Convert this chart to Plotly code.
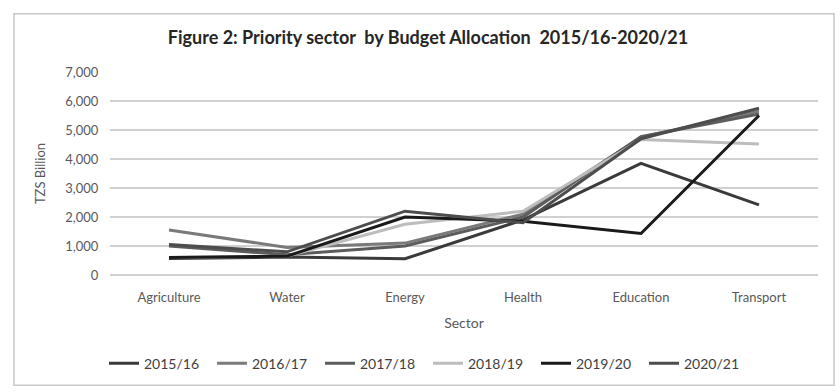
import plotly.graph_objects as go

sectors = ["Agriculture", "Water", "Energy", "Health", "Education", "Transport"]
years = ["2015/16", "2016/17", "2017/18", "2018/19", "2019/20", "2020/21"]
v_2015_16 = [570, 620, 560, 1900, 3850, 2420]
v_2016_17 = [1550, 950, 1100, 2100, 4750, 5650]
v_2017_18 = [1000, 700, 1000, 2000, 4770, 5550]
v_2018_19 = [600, 650, 1750, 2200, 4670, 4520]
v_2019_20 = [600, 650, 2000, 1850, 1430, 5500]
v_2020_21 = [1050, 800, 2200, 1800, 4700, 5750]
series = [v_2015_16, v_2016_17, v_2017_18, v_2018_19, v_2019_20, v_2020_21]
colors = ["#3a3a3a", "#7a7a7a", "#5c5c5c", "#bdbdbd", "#1a1a1a", "#4d4d4d"]

fig = go.Figure()
for name, vals, c in zip(years, series, colors):
    fig.add_trace(go.Scatter(x=sectors, y=vals, name=name, mode="lines",
                             line=dict(color=c, width=3)))

font = "Lato, 'Open Sans', sans-serif"
L, R, T, B = 110, 21, 72, 114
W, H = 839, 392
pw, ph = W - L - R, H - T - B

def px(x):
    return (x - L) / pw

def py(y):
    return (H - B - y) / ph

fig.update_layout(
    width=W, height=H,
    margin=dict(l=L, r=R, t=T, b=B),
    paper_bgcolor="white", plot_bgcolor="white",
    font=dict(family=font, color="#595959", size=12),
    title=dict(text="<b>Figure 2: Priority sector  by Budget Allocation  2015/16-2020/21</b>",
               x=px(428), xanchor="center", xref="paper", y=1 - 38 / H, yanchor="middle",
               font=dict(size=18, color="#262626", family=font)),
    xaxis=dict(title=dict(text="Sector", font=dict(size=14, color="#595959"), standoff=14),
               type="category", range=[-0.5, 5.5],
               showgrid=False, showline=False, ticks="outside", ticklen=10, tickcolor="white",
               zeroline=False, tickfont=dict(size=13, color="#595959")),
    yaxis=dict(title=dict(text="TZS Billion", font=dict(size=13, color="#595959"), standoff=16),
               range=[0, 7000], dtick=1000, tickformat=",d",
               showgrid=True, gridcolor="#d0d0d0", gridwidth=1.5, zeroline=True,
               zerolinecolor="#d0d0d0", zerolinewidth=1.5, showline=False,
               ticks="outside", ticklen=8, tickcolor="white",
               tickfont=dict(size=13, color="#595959")),
    legend=dict(orientation="h", x=px(428), xanchor="center", y=py(368), yanchor="middle",
                font=dict(size=14, color="#404040"), itemwidth=30, tracegroupgap=0,
                entrywidth=63, entrywidthmode="pixels"),
    shapes=[dict(type="rect", xref="paper", yref="paper",
                 x0=px(14), x1=px(834), y0=py(390), y1=py(13),
                 line=dict(color="#c8c8c8", width=1.5))],
)
fig.write_html("out.html")
